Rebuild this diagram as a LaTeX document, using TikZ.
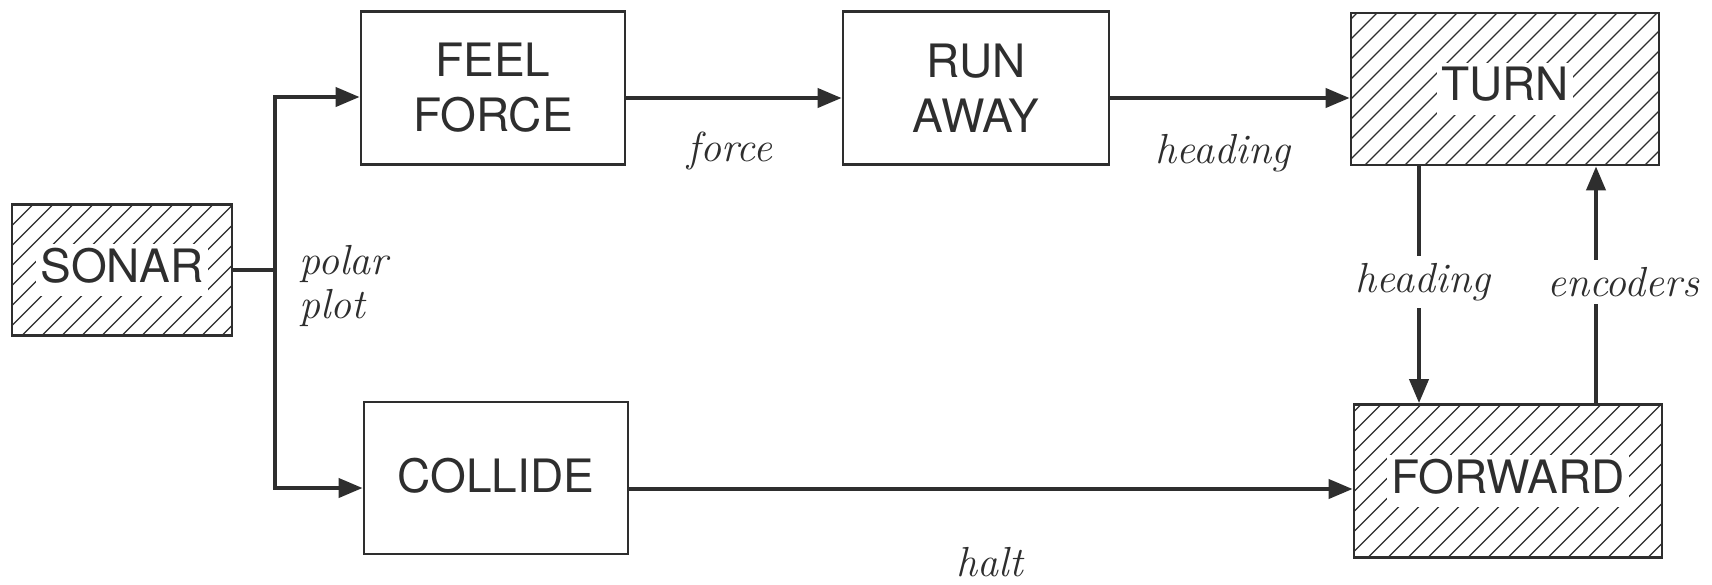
\documentclass[tikz,border=0pt]{standalone}
\usepackage{fontspec}
\newfontfamily\boxfont{TeX Gyre Heros}
\usetikzlibrary{arrows.meta}
\definecolor{ink}{HTML}{2E2E2E}
\newcommand\whitebg[1]{{\fboxsep=4pt\colorbox{white}{\vphantom{Ay}#1}}}
\tikzset{
  blk/.style={draw=ink, line width=2.8pt, inner sep=0pt, text=ink, align=center,
    font=\boxfont\fontsize{46}{55}\selectfont},
  hatched/.style={blk, path picture={
      \foreach \k in {-18,...,10}
        \draw[ink, line width=1.2pt] ([xshift={\k*20pt}]path picture bounding box.south) -- ++(240,-240);
    }},
  ln/.style={draw=ink, line width=4pt},
  arr/.style={ln, -{Triangle[length=24pt,width=19pt]}},
  lab/.style={text=ink, inner sep=1pt, font=\itshape\fontsize{42}{44}\selectfont},
}
\begin{document}
\begin{tikzpicture}[x=1pt,y=-1pt]
\useasboundingbox[fill=white] (0,0) rectangle (1712,584);

% boxes
\node[hatched, minimum width=220pt, minimum height=131pt] (sonar) at (122,270) {\whitebg{SONAR}};
\node[blk, minimum width=264pt, minimum height=153pt] (feel) at (493,88) {FEEL\\FORCE};
\node[blk, minimum width=266pt, minimum height=153pt] (run) at (976,88) {RUN\\AWAY};
\node[hatched, minimum width=308pt, minimum height=152pt] (turn) at (1505,89) {\whitebg{TURN}};
\node[blk, minimum width=264pt, minimum height=152pt] (collide) at (496,478) {\raisebox{6pt}{COLLIDE}};
\node[hatched, minimum width=308pt, minimum height=153pt] (forward) at (1508,481) {\whitebg{FORWARD}};

% connectors
\coordinate (j) at (275,270);
\draw[ln] (sonar.east) -- (j);
\coordinate (ff) at ([yshift=-9pt]feel.west);
\draw[arr] (j) |- (ff);
\coordinate (cc) at ([yshift=-10pt]collide.west);
\draw[arr] (j) |- (cc);

\coordinate (f1) at ([yshift=-10pt]feel.east);
\draw[arr] (f1) -- (f1 -| run.west);
\coordinate (r1) at ([yshift=-10pt]run.east);
\draw[arr] (r1) -- (r1 -| turn.west);
\coordinate (c1) at ([yshift=-11pt]collide.east);
\draw[arr] (c1) -- (c1 -| forward.west);

\coordinate (h1) at ([xshift=-86pt]turn.south);
\draw[arr] (h1) -- (h1 |- forward.north);
\coordinate (e1) at ([xshift=88pt]forward.north);
\draw[arr] (e1) -- (e1 |- turn.south);

% labels
\node[lab, anchor=west, align=left] (lpolar) at (298,286) {polar\\plot};
\node[lab] (lforce) at (730,151) {force};
\node[lab] (lhead1) at (1223,153) {heading};
\node[lab, fill=white, inner ysep=7pt] (lhead2) at (1423,282) {heading};
\node[lab, fill=white, inner ysep=7pt] (lenc) at (1623,282) {encoders};
\node[lab] (lhalt) at (990,562) {halt};
\end{tikzpicture}
\end{document}
